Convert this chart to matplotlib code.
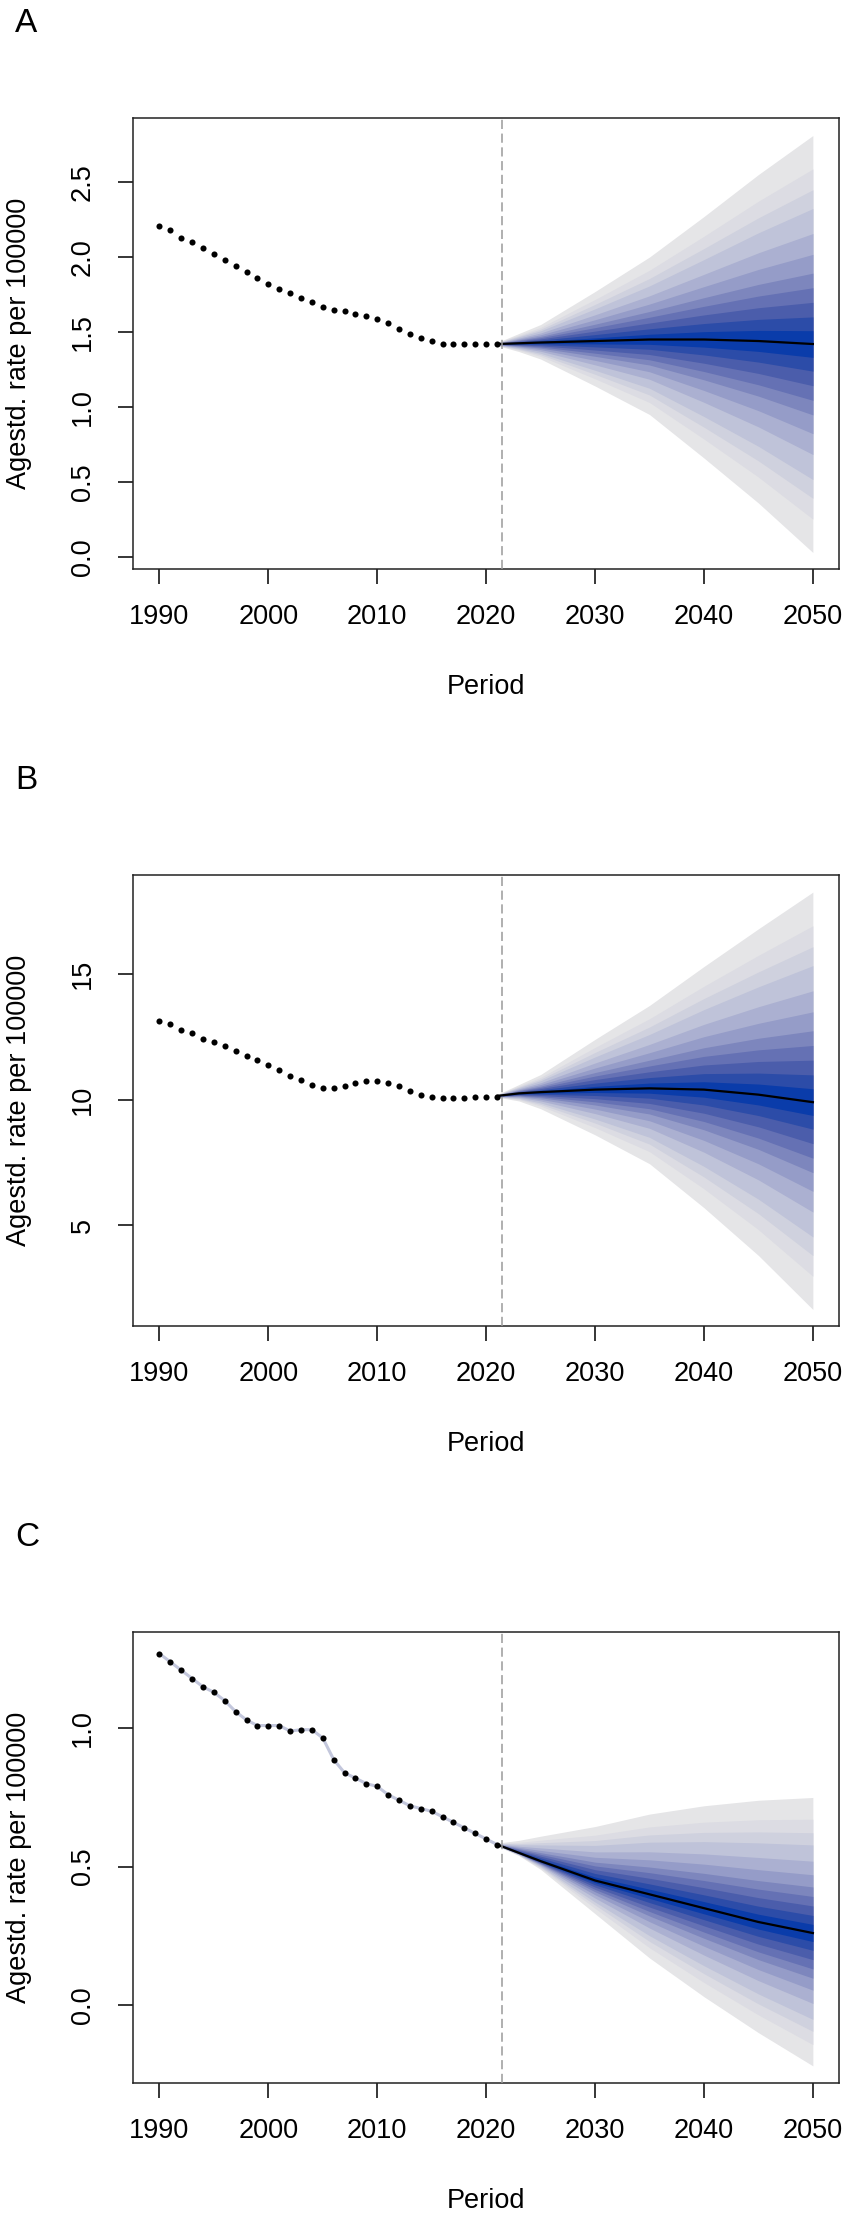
import numpy as np
import matplotlib
matplotlib.use("Agg")
import matplotlib.pyplot as plt

plt.rcParams['font.family'] = ['Liberation Sans', 'DejaVu Sans']

# observed age-standardised rates, 1990-2021
obs_years = np.arange(1990, 2022)
obs_A = [2.21, 2.18, 2.13, 2.10, 2.06, 2.02, 1.98, 1.94, 1.90, 1.86,
         1.82, 1.79, 1.76, 1.73, 1.70, 1.67, 1.65, 1.64, 1.62, 1.61,
         1.59, 1.56, 1.52, 1.49, 1.46, 1.44, 1.42, 1.42, 1.42, 1.42,
         1.42, 1.42]
obs_B = [13.15, 13.00, 12.79, 12.64, 12.41, 12.29, 12.14, 11.94, 11.73, 11.59,
         11.38, 11.18, 10.95, 10.80, 10.60, 10.47, 10.47, 10.53, 10.68, 10.75,
         10.75, 10.67, 10.53, 10.33, 10.18, 10.12, 10.05, 10.05, 10.07, 10.12,
         10.12, 10.12]
obs_C = [1.27, 1.24, 1.21, 1.18, 1.15, 1.13, 1.10, 1.06, 1.03, 1.01,
         1.01, 1.01, 0.99, 0.995, 0.995, 0.965, 0.887, 0.839, 0.82, 0.80,
         0.79, 0.76, 0.74, 0.72, 0.71, 0.70, 0.68, 0.66, 0.64, 0.62,
         0.60, 0.58]

# projections: median and outer 95% bounds
proj_years = [2021, 2023, 2025, 2030, 2035, 2040, 2045, 2050]
med_A = [1.42, 1.425, 1.43, 1.44, 1.45, 1.45, 1.44, 1.42]
up_A = [1.43, 1.49, 1.55, 1.77, 2.00, 2.27, 2.55, 2.81]
lo_A = [1.41, 1.37, 1.32, 1.14, 0.95, 0.66, 0.36, 0.03]

med_B = [10.15, 10.25, 10.30, 10.40, 10.45, 10.40, 10.20, 9.90]
up_B = [10.20, 10.60, 11.00, 12.40, 13.75, 15.30, 16.80, 18.26]
lo_B = [10.10, 9.95, 9.64, 8.60, 7.45, 5.70, 3.80, 1.65]

med_C = [0.58, 0.55, 0.52, 0.45, 0.40, 0.35, 0.30, 0.26]
up_C = [0.585, 0.595, 0.61, 0.645, 0.69, 0.72, 0.74, 0.75]
lo_C = [0.575, 0.54, 0.49, 0.33, 0.17, 0.03, -0.10, -0.22]

# width of each fan band relative to the outer band (outer -> inner)
band_frac = [1.0, 0.84, 0.74, 0.65, 0.53, 0.43, 0.34, 0.27, 0.20, 0.13, 0.064]
band_cols = ['#e5e5e7', '#dcdce3', '#cfd1de', '#bfc3d9', '#abb0d1', '#959cc8',
             '#7d86bd', '#6571b4', '#4b5dab', '#2c4ca8', '#0a3caa']

panels = [
    ('A', obs_A, med_A, up_A, lo_A, (-0.082, 2.925), [0.0, 0.5, 1.0, 1.5, 2.0, 2.5], '%.1f'),
    ('B', obs_B, med_B, up_B, lo_B, (0.98, 18.93), [5, 10, 15], '%d'),
    ('C', obs_C, med_C, up_C, lo_C, (-0.283, 1.347), [0.0, 0.5, 1.0], '%.1f'),
]

W, H = 851, 2217
fig = plt.figure(figsize=(W / 100, H / 100), dpi=100)
fs = 19.5

for i, (lab, obs, med, up, lo, ylim, yt, fmt) in enumerate(panels):
    top = 118.3 + 757 * i
    ax = fig.add_axes([133.3 / W, 1 - (top + 451) / H, 705.7 / W, 451 / H])

    med = np.array(med)
    up = np.array(up)
    lo = np.array(lo)
    for f, c in zip(band_frac, band_cols):
        ax.fill_between(proj_years, med - f * (med - lo), med + f * (up - med),
                        color=c, lw=0, zorder=1)
    ax.plot(proj_years, med, color='black', lw=1.6, zorder=3)

    if lab == 'C':
        ax.plot(obs_years, obs, color='#c3c7dc', lw=2.2, zorder=2)
    ax.plot(obs_years, obs, 'o', color='black', ms=4.4, mew=0, zorder=4)

    ax.axvline(2021.5, color='#9a9a9a', lw=1.1, ls=(0, (6, 3)), zorder=5)

    ax.set_xlim(1987.6, 2052.4)
    ax.set_ylim(*ylim)
    ax.set_xticks(range(1990, 2051, 10))
    ax.set_yticks(yt)
    ax.set_yticklabels([fmt % v for v in yt], rotation=90, va='center')
    ax.tick_params(length=11, width=1.1, labelsize=fs)
    ax.tick_params(axis='x', pad=14)
    ax.tick_params(axis='y', pad=16)
    for s in ax.spines.values():
        s.set_linewidth(1.1)
        s.set_color('#222222')

    ax.set_xlabel('Period', fontsize=fs, va='center')
    ax.xaxis.set_label_coords(0.5, -118 / 451)
    ax.set_ylabel('Agestd. rate per 100000', fontsize=fs, va='center')
    ax.yaxis.set_label_coords(-(133.3 - 19) / 705.7, 0.5)

    fig.text(15 / W, 1 - (32 + 757 * i) / H, lab, fontsize=24, ha='left', va='baseline')

fig.savefig('out.png', dpi=100)
